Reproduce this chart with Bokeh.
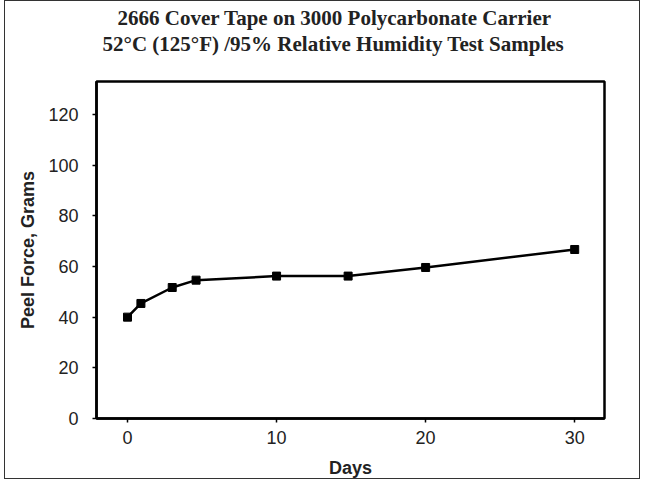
from bokeh.plotting import figure
from bokeh.models import Title, Range1d, FixedTicker
from bokeh.embed import file_html
from bokeh.resources import INLINE

days = [0, 0.9, 3, 4.6, 10, 14.8, 20, 30]
peel_force = [40, 45.4, 51.7, 54.6, 56.2, 56.2, 59.6, 66.7]
x_ticks = [0, 10, 20, 30]
y_ticks = [0, 20, 40, 60, 80, 100, 120]
title_line1 = "2666 Cover Tape on 3000 Polycarbonate Carrier"
title_line2 = "52°C (125°F) /95% Relative Humidity Test Samples"

p = figure(width=636, height=479, output_backend="svg", toolbar_location=None,
           x_range=Range1d(-2.08, 32), y_range=Range1d(0, 133),
           min_border_left=91, min_border_right=37, min_border_top=80, min_border_bottom=62,
           styles={"border": "1.5px solid #333", "box-sizing": "border-box",
                   "margin-left": "4px"})
p.title = None

title_style = dict(align="left", text_font="Liberation Serif", text_font_style="bold",
                   text_font_size="21px", text_color="#222", standoff=0)
# spacer between the title lines and the frame (added first = closest to the frame)
p.add_layout(Title(text=" ", text_font_size="2px", standoff=22), "above")
p.add_layout(Title(text=title_line2, offset=6, text_line_height=0.8, **title_style), "above")
p.add_layout(Title(text=title_line1, offset=21, **title_style), "above")

p.line(days, peel_force, line_color="black", line_width=2.5)
p.scatter(days, peel_force, marker="square", size=8, fill_color="black", line_color="black")

p.xgrid.visible = False
p.ygrid.visible = False
p.outline_line_color = "black"
p.outline_line_width = 2.5

for ax in (p.xaxis, p.yaxis):
    ax.major_label_text_font = "Liberation Sans"
    ax.major_label_text_font_size = "18px"
    ax.major_label_text_color = "#222"
    ax.axis_label_text_font = "Liberation Sans"
    ax.axis_label_text_font_size = "18px"
    ax.axis_label_text_font_style = "bold"
    ax.axis_label_text_color = "#222"
    ax.axis_line_color = "black"
    ax.axis_line_width = 2.5
    ax.major_tick_line_color = "black"
    ax.major_tick_line_width = 1.5
    ax.major_tick_in = 0
    ax.major_tick_out = 4
    ax.minor_tick_line_color = None

p.xaxis.ticker = FixedTicker(ticks=x_ticks)
p.yaxis.ticker = FixedTicker(ticks=y_ticks)
p.xaxis.axis_label = "Days"
p.yaxis.axis_label = "Peel Force, Grams"
p.xaxis.major_label_standoff = 8
p.yaxis.major_label_standoff = 14
p.xaxis.axis_label_standoff = 11
p.yaxis.axis_label_standoff = 7

open("out.html", "w").write(file_html(p, INLINE))
